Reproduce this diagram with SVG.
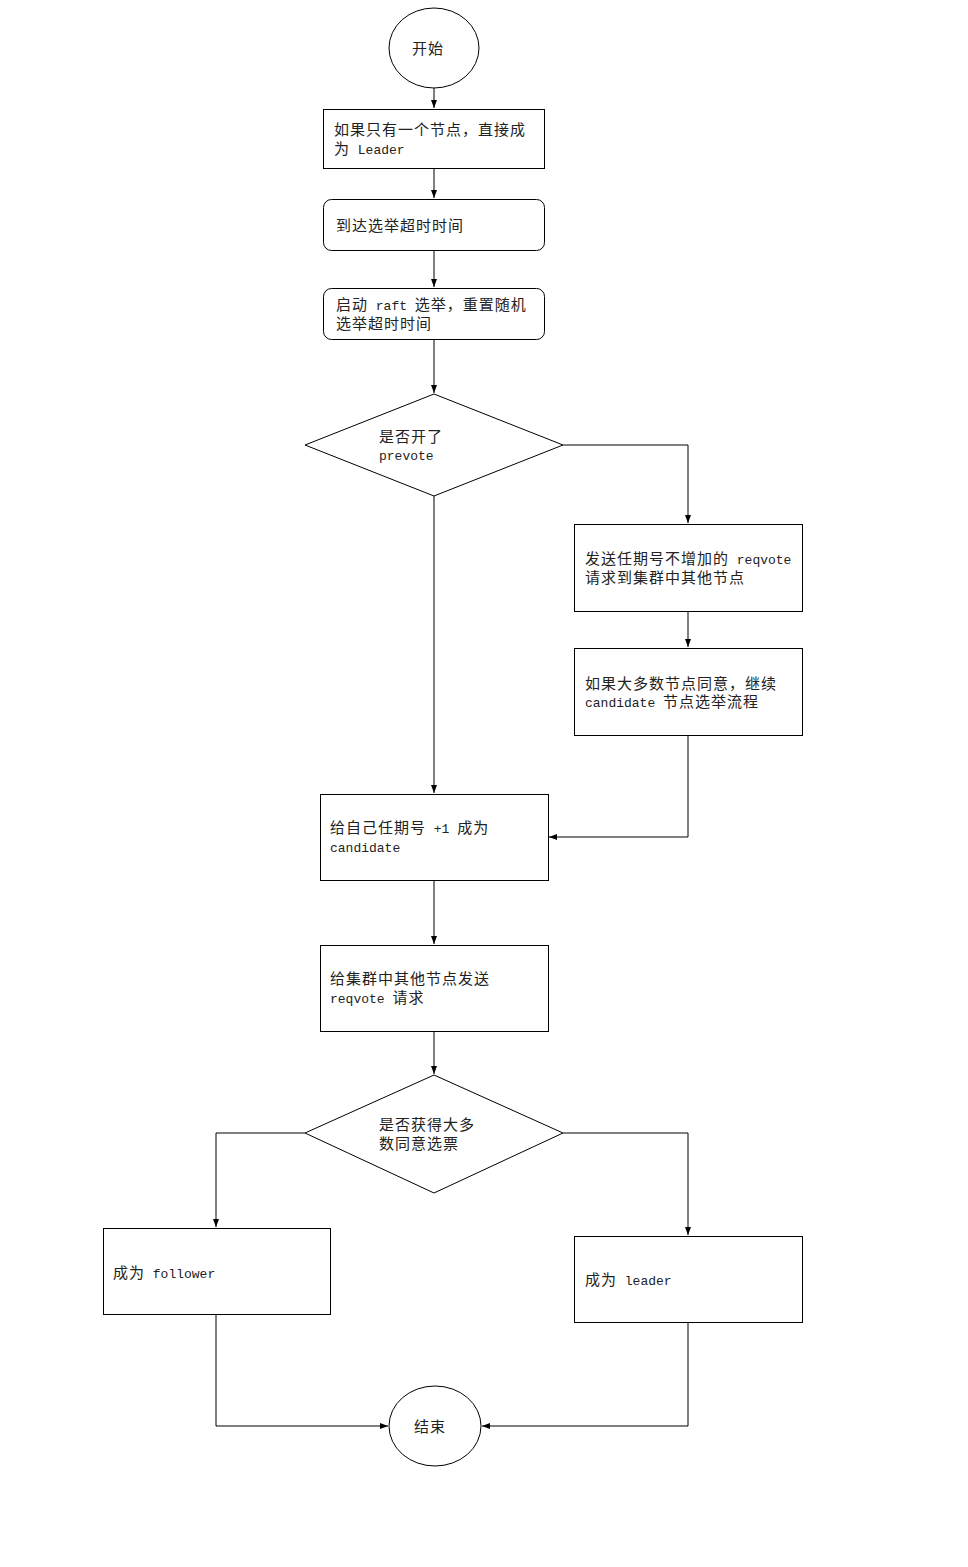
<svg xmlns="http://www.w3.org/2000/svg" width="968" height="1567" viewBox="0 0 968 1567">
<style>
.s{fill:#fff;stroke:#000;stroke-width:1}
.t{font-family:"Noto Sans CJK SC","Liberation Mono",sans-serif;font-size:15px;letter-spacing:1px;fill:#222}
.l{font-family:"Liberation Mono","Noto Sans CJK SC",monospace;font-size:13px;letter-spacing:0}
.c{fill:none;stroke:#000;stroke-width:1}
</style>
<defs>
<marker id="a" markerWidth="8" markerHeight="6" refX="8" refY="3" orient="auto" markerUnits="userSpaceOnUse">
<path d="M0,0 L8,3 L0,6 Z" fill="#000"/>
</marker>
</defs>
<rect width="968" height="1567" fill="#fff"/>
<g id="connectors">
<path class="c" d="M434,88 V108" marker-end="url(#a)"/>
<path class="c" d="M434,168 V198" marker-end="url(#a)"/>
<path class="c" d="M434,250 V287" marker-end="url(#a)"/>
<path class="c" d="M434,339 V393" marker-end="url(#a)"/>
<path class="c" d="M563,445 H688 V523" marker-end="url(#a)"/>
<path class="c" d="M688,611 V647" marker-end="url(#a)"/>
<path class="c" d="M688,735 V837 H549" marker-end="url(#a)"/>
<path class="c" d="M434,496 V793" marker-end="url(#a)"/>
<path class="c" d="M434,880 V944" marker-end="url(#a)"/>
<path class="c" d="M434,1031 V1074" marker-end="url(#a)"/>
<path class="c" d="M305,1133 H216 V1227" marker-end="url(#a)"/>
<path class="c" d="M563,1133 H688 V1235" marker-end="url(#a)"/>
<path class="c" d="M216,1314 V1426 H388" marker-end="url(#a)"/>
<path class="c" d="M688,1322 V1426 H482" marker-end="url(#a)"/>
</g>
<g id="start">
<ellipse class="s" cx="434" cy="48" rx="45" ry="40"/>
<text class="t" x="412" y="54">开始</text>
</g>
<g id="n1">
<rect class="s" x="323.5" y="109.5" width="221" height="59"/>
<text class="t" x="334" y="135">如果只有一个节点，直接成</text>
<text class="t" x="334" y="154">为<tspan class="l"> Leader</tspan></text>
</g>
<g id="n2">
<rect class="s" x="323.5" y="199.5" width="221" height="51" rx="8"/>
<text class="t" x="336" y="231">到达选举超时时间</text>
</g>
<g id="n3">
<rect class="s" x="323.5" y="288.5" width="221" height="51" rx="8"/>
<text class="t" x="336" y="310">启动<tspan class="l"> raft </tspan>选举，重置随机</text>
<text class="t" x="336" y="329">选举超时时间</text>
</g>
<g id="d1">
<polygon class="s" points="434,394 563,445 434,496 305,445"/>
<text class="t" x="379" y="442">是否开了</text>
<text class="t" x="379" y="460"><tspan class="l">prevote</tspan></text>
</g>
<g id="n4">
<rect class="s" x="574.5" y="524.5" width="228" height="87"/>
<text class="t" x="585" y="564">发送任期号不增加的<tspan class="l"> reqvote</tspan></text>
<text class="t" x="585" y="583">请求到集群中其他节点</text>
</g>
<g id="n5">
<rect class="s" x="574.5" y="648.5" width="228" height="87"/>
<text class="t" x="585" y="689">如果大多数节点同意，继续</text>
<text class="t" x="585" y="707"><tspan class="l">candidate </tspan>节点选举流程</text>
</g>
<g id="n6">
<rect class="s" x="320.5" y="794.5" width="228" height="86"/>
<text class="t" x="330" y="833">给自己任期号<tspan class="l"> +1 </tspan>成为</text>
<text class="t" x="330" y="852"><tspan class="l">candidate</tspan></text>
</g>
<g id="n7">
<rect class="s" x="320.5" y="945.5" width="228" height="86"/>
<text class="t" x="330" y="984">给集群中其他节点发送</text>
<text class="t" x="330" y="1003"><tspan class="l">reqvote </tspan>请求</text>
</g>
<g id="d2">
<polygon class="s" points="434,1075 563,1133 434,1193 305,1133"/>
<text class="t" x="379" y="1130">是否获得大多</text>
<text class="t" x="379" y="1149">数同意选票</text>
</g>
<g id="n8">
<rect class="s" x="103.5" y="1228.5" width="227" height="86"/>
<text class="t" x="113" y="1278">成为<tspan class="l"> follower</tspan></text>
</g>
<g id="n9">
<rect class="s" x="574.5" y="1236.5" width="228" height="86"/>
<text class="t" x="585" y="1285">成为<tspan class="l"> leader</tspan></text>
</g>
<g id="end">
<ellipse class="s" cx="435" cy="1426" rx="46" ry="40"/>
<text class="t" x="414" y="1432">结束</text>
</g>
</svg>
